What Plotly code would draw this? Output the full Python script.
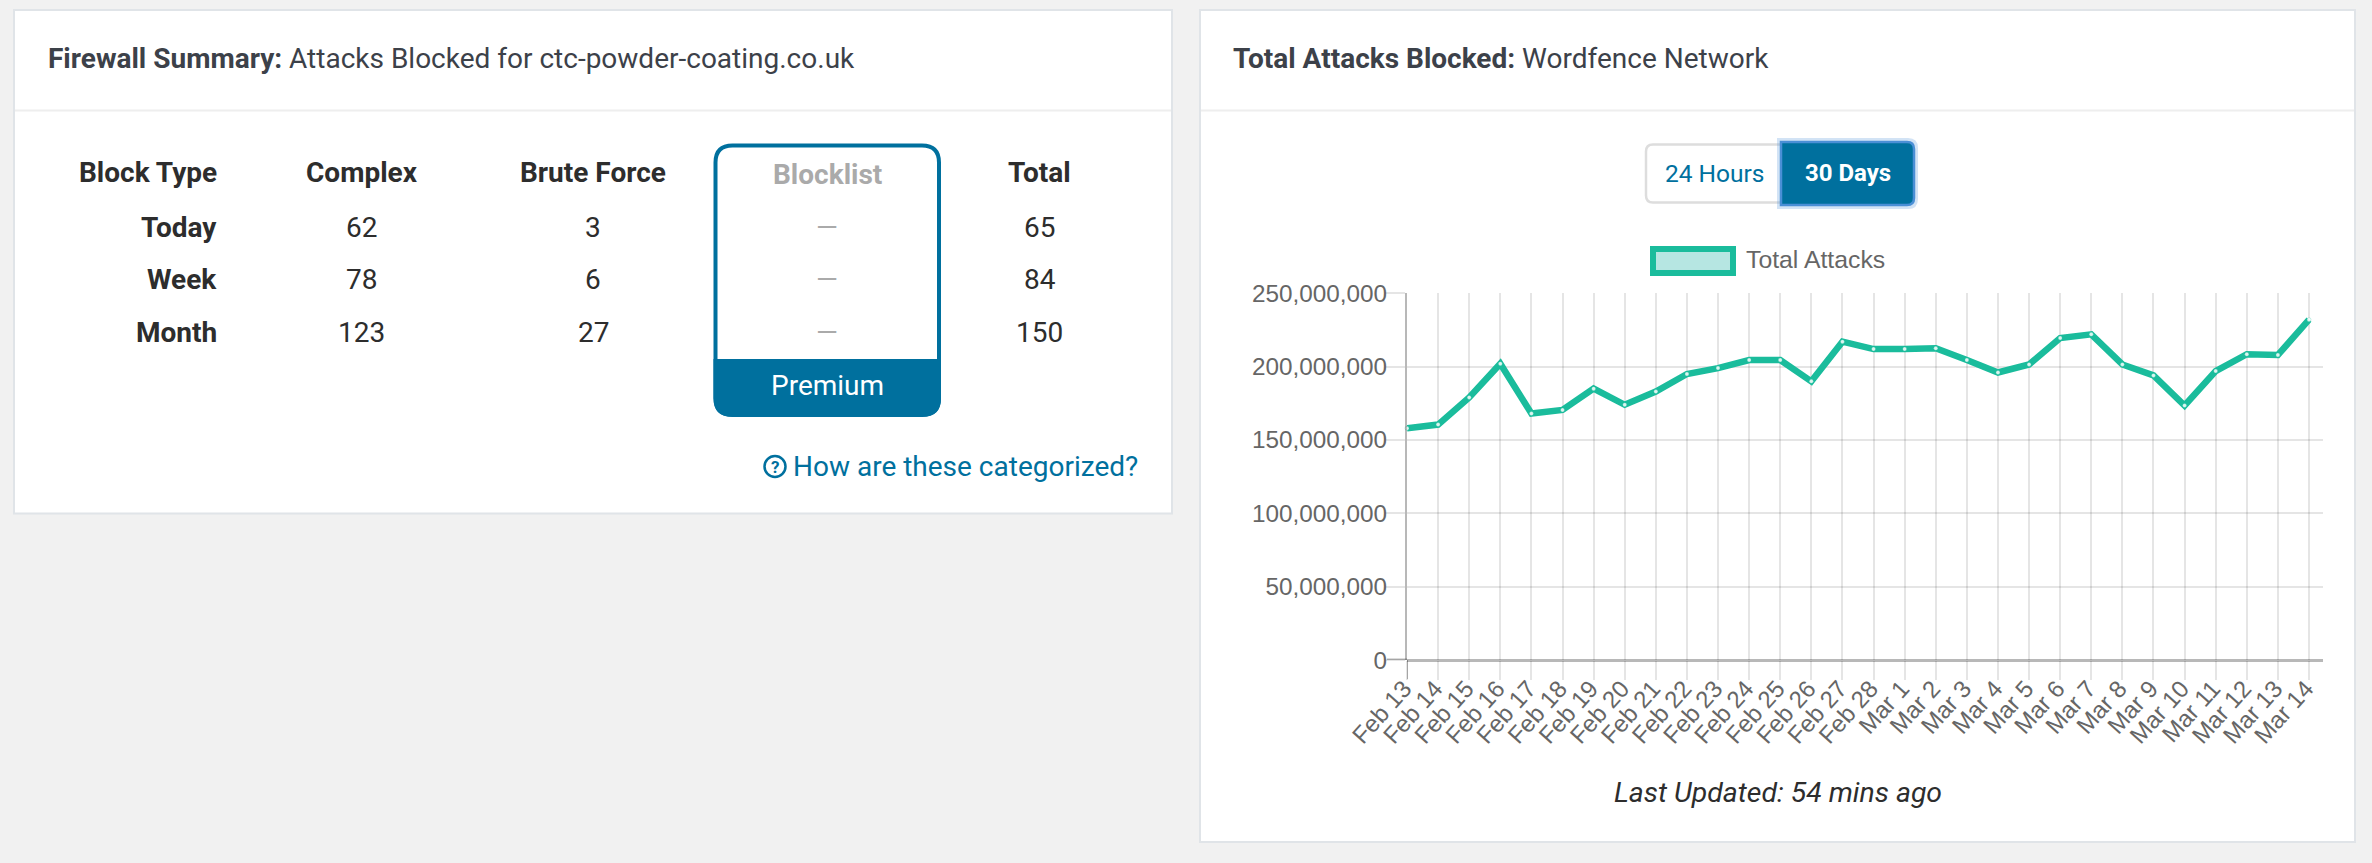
import plotly.graph_objects as go

# ---------- data ----------
dates = ["Feb 13","Feb 14","Feb 15","Feb 16","Feb 17","Feb 18","Feb 19","Feb 20","Feb 21","Feb 22",
         "Feb 23","Feb 24","Feb 25","Feb 26","Feb 27","Feb 28","Mar 1","Mar 2","Mar 3","Mar 4",
         "Mar 5","Mar 6","Mar 7","Mar 8","Mar 9","Mar 10","Mar 11","Mar 12","Mar 13","Mar 14"]
total_attacks = [158000000,160500000,179000000,202000000,168000000,170500000,185000000,174000000,
                 183000000,195000000,199000000,204500000,204500000,190000000,217000000,212000000,
                 212000000,212500000,204500000,196000000,201500000,219500000,222000000,201500000,
                 194000000,173500000,197000000,208500000,208000000,232000000]
y_ticks = [0,50000000,100000000,150000000,200000000,250000000]

table_rows = ["Today","Week","Month"]
complex_vals = [62,78,123]
brute_vals = [3,6,27]
total_vals = [65,84,150]

W, H = 2372, 863
TEAL = "#1abc9c"
BLUE = "#00709e"
DARK = "#2d2d2d"
HEAD = "#3c4149"
BODY_FONT = "Roboto"

def fx(p): return p / W
def fy(p): return 1 - p / H

shapes, ann = [], []

def rrect(x0, y0, x1, y1, r=0, fill="rgba(0,0,0,0)", line=None, lw=0, corners="tl tr br bl"):
    c = corners.split()
    tl = r if "tl" in c else 0
    tr = r if "tr" in c else 0
    br = r if "br" in c else 0
    bl = r if "bl" in c else 0
    X, Y = fx, fy
    d = (f"M {X(x0+tl)} {Y(y0)} L {X(x1-tr)} {Y(y0)} Q {X(x1)} {Y(y0)} {X(x1)} {Y(y0+tr)} "
         f"L {X(x1)} {Y(y1-br)} Q {X(x1)} {Y(y1)} {X(x1-br)} {Y(y1)} "
         f"L {X(x0+bl)} {Y(y1)} Q {X(x0)} {Y(y1)} {X(x0)} {Y(y1-bl)} "
         f"L {X(x0)} {Y(y0+tl)} Q {X(x0)} {Y(y0)} {X(x0+tl)} {Y(y0)} Z")
    shapes.append(dict(type="path", xref="paper", yref="paper", path=d, fillcolor=fill, layer="below",
                       line=dict(color=line or "rgba(0,0,0,0)", width=lw)))

def hline(x0, x1, y, color, w):
    shapes.append(dict(type="line", xref="paper", yref="paper", x0=fx(x0), x1=fx(x1), y0=fy(y), y1=fy(y),
                       line=dict(color=color, width=w), layer="below"))

def text(x, y, s, size=28, color=DARK, anchor="center", family=BODY_FONT):
    ann.append(dict(xref="paper", yref="paper", x=fx(x), y=fy(y), text=s, showarrow=False, xanchor=anchor,
                    yanchor="middle", font=dict(family=family, size=size, color=color), align=anchor))

# cards
CARD_LINE = "#e0e4e8"
rrect(14, 10, 1172, 513.5, fill="#ffffff", line=CARD_LINE, lw=2)
rrect(1200, 10, 2355, 842, fill="#ffffff", line=CARD_LINE, lw=2)
hline(15, 1171, 110.5, "#eeeeee", 2)
hline(1201, 2354, 110.5, "#eeeeee", 2)

# card headers
text(45.5, 58.5, "<b>Firewall Summary:</b> Attacks Blocked for ctc-powder-coating.co.uk", 28, HEAD, "left")
text(1231, 58.5, "<b>Total Attacks Blocked:</b> Wordfence Network", 28, HEAD, "left")

# table
header_y, row_y = 172, [227, 279, 332]
col_complex, col_brute, col_block, col_total, col_label = 361.5, 593, 827, 1039.5, 219
text(col_label, header_y, "<b>Block Type</b>", anchor="right")
text(col_complex, header_y, "<b>Complex</b>")
text(col_brute, header_y, "<b>Brute Force</b>")
text(col_block, header_y + 2, "<b>Blocklist</b>", color="#aaaaaa")
text(col_total, header_y, "<b>Total</b>")
for i, row in enumerate(table_rows):
    text(col_label, row_y[i], f"<b>{row}</b>", anchor="right")
    text(col_complex, row_y[i], str(complex_vals[i]))
    text(col_brute, row_y[i], str(brute_vals[i]))
    text(col_block, row_y[i], "—", color="#aaaaaa")
    text(col_total, row_y[i], str(total_vals[i]))

# premium box
rrect(715.5, 145.5, 939, 415, r=17, fill="#ffffff", line=BLUE, lw=4)
rrect(713.5, 359, 941, 416.5, r=18, fill=BLUE, corners="br bl")
text(827, 385, "Premium", 28, "#ffffff")

# help link
shapes.append(dict(type="circle", xref="paper", yref="paper", x0=fx(764.5), x1=fx(785.5), y0=fy(477), y1=fy(456),
                   line=dict(color=BLUE, width=2.5)))
text(775, 467, "<b>?</b>", 17, BLUE)
text(1140, 466, "How are these categorized?", 28, BLUE, "right")

# buttons
rrect(1646, 144.5, 1790, 202.5, r=7, fill="#ffffff", line="#dddddd", lw=2.5)
rrect(1779, 140, 1916, 207, r=8, fill="rgba(0,0,0,0)", line="rgba(74,143,214,0.25)", lw=4, corners="tr br")
rrect(1781, 142, 1914, 205, r=7, fill=BLUE, line="#4a8fd6", lw=2.5, corners="tr br")
text(1715, 173.5, "24 Hours", 24.5, BLUE)
text(1848, 173.5, "<b>30 Days</b>", 24, "#ffffff")

# legend box
rrect(1653, 249, 1733, 273, fill="#b6e6e2", line=TEAL, lw=6)
text(1743.5, 259.5, "Total Attacks", 24.8, "#666666", "left", "Liberation Sans")

# footer
text(1778, 792, "<i>Last Updated: 54 mins ago</i>", 28.4, DARK)

AXIS_DARK = "rgba(0,0,0,0.28)"

PLOT_L, PLOT_R, PLOT_T, PLOT_B = 1407, 2322.5, 293.3, 660
step = (2309 - 1407) / (len(dates) - 1)

# darker tick extensions of the two axis lines
shapes.append(dict(type="line", xref="paper", yref="y", x0=fx(PLOT_L - 20), x1=fx(PLOT_L), y0=0, y1=0,
                   line=dict(color=AXIS_DARK, width=3)))
shapes.append(dict(type="line", xref="x", yref="paper", x0=dates[0], x1=dates[0], y0=fy(PLOT_B), y1=fy(PLOT_B + 19),
                   line=dict(color=AXIS_DARK, width=2)))

fig = go.Figure(go.Scatter(
    x=dates, y=total_attacks, name="Total Attacks", mode="lines+markers",
    line=dict(color=TEAL, width=6.5),
    marker=dict(size=4, color="rgba(255,255,255,0.85)", line=dict(color="rgba(26,188,156,0.5)", width=0.5)),
    cliponaxis=False, showlegend=False))

fig.update_layout(
    width=W, height=H, margin=dict(l=0, r=0, t=0, b=0, autoexpand=False),
    paper_bgcolor="#f1f1f1", plot_bgcolor="rgba(0,0,0,0)",
    shapes=shapes, annotations=ann, showlegend=False,
    font=dict(family="Liberation Sans", size=24, color="#666666"),
    xaxis=dict(domain=[fx(PLOT_L), fx(PLOT_R)], type="category", categoryorder="array", categoryarray=dates,
               automargin=False,
               range=[0, (PLOT_R - PLOT_L) / step], tickmode="array", tickvals=dates, ticktext=dates,
               tickangle=-48, ticks="outside", ticklen=19, tickwidth=2, tickcolor="rgba(0,0,0,0.1)",
               ticklabelstandoff=-15, ticklabelshift=-3,
               showgrid=True, gridcolor="rgba(0,0,0,0.1)", gridwidth=2, showline=False, zeroline=False,
               tickfont=dict(family="Liberation Sans", size=24, color="#666666")),
    yaxis=dict(domain=[fy(PLOT_B), fy(PLOT_T)], range=[0, 250000000], tickmode="array", tickvals=y_ticks,
               automargin=False,
               tickformat=",d", ticks="outside", ticklen=20, tickwidth=2, tickcolor="rgba(0,0,0,0.1)",
               ticklabelstandoff=-7, 
               showgrid=True, gridcolor="rgba(0,0,0,0.1)", gridwidth=2, zeroline=True,
               zerolinecolor=AXIS_DARK, zerolinewidth=3, showline=True, linecolor=AXIS_DARK, linewidth=2,
               tickfont=dict(family="Liberation Sans", size=24.3, color="#666666")),
)

fig.write_html("out.html", config=dict(displayModeBar=False),
               post_script="document.body.style.margin='0';document.body.style.overflow='hidden';document.body.style.background='#f1f1f1';")
